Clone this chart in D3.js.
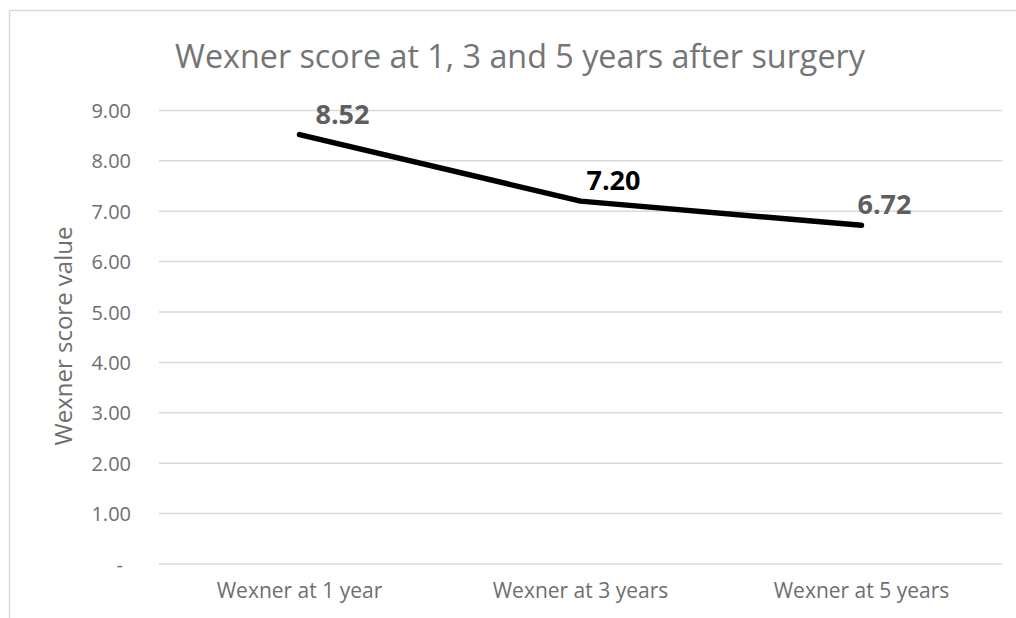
<!DOCTYPE html>
<html>
<head>
<meta charset="utf-8">
<script src="https://cdn.jsdelivr.net/npm/d3@7"></script>
<style>
  body { margin: 0; background: #fff; }
  svg text { font-family: "Open Sans", sans-serif; }
</style>
</head>
<body>
<svg id="chart" width="1016" height="618"></svg>
<script>
// data
const categories = ["Wexner at 1 year", "Wexner at 3 years", "Wexner at 5 years"];
const scores = [8.52, 7.20, 6.72];
const yTicks = [0, 1, 2, 3, 4, 5, 6, 7, 8, 9];
const titleText = "Wexner score at 1, 3 and 5 years after surgery";
const yLabelText = "Wexner score value";

// label nudges relative to each point, and label colours
const labelDx = [43, 33, 23];
const labelColors = ["#5f5f5f", "#000000", "#5f5f5f"];

const svg = d3.select("#chart");

// outer chart border (only top/left visible in the frame)
svg.append("rect")
  .attr("x", 9.5).attr("y", 10.5)
  .attr("width", 1100).attr("height", 700)
  .attr("fill", "none")
  .attr("stroke", "#d9d9d9")
  .attr("stroke-width", 1.5);

const x = d3.scaleBand().domain(categories).range([159, 1002]);
const y = d3.scaleLinear().domain([0, 9]).range([564, 110.4]);

// gridlines
svg.append("g")
  .selectAll("line")
  .data(yTicks)
  .join("line")
  .attr("x1", 159).attr("x2", 1002)
  .attr("y1", d => y(d)).attr("y2", d => y(d))
  .attr("stroke", "#d9d9d9")
  .attr("stroke-width", 1.5);

// y axis labels
const yAxis = d3.axisLeft(y)
  .tickValues(yTicks)
  .tickSize(0)
  .tickPadding(0)
  .tickFormat(d => d === 0 ? "-" : d3.format(".2f")(d));

svg.append("g")
  .attr("transform", "translate(131,0)")
  .call(yAxis)
  .call(g => g.select(".domain").remove())
  .call(g => g.selectAll("text")
    .attr("fill", "#6e6e6e")
    .attr("font-size", 20)
    .attr("dy", "0.35em")
    .attr("dx", d => d === 0 ? -8 : 0)
    .style("font-family", "'Open Sans', sans-serif"));

// x axis labels
const xAxis = d3.axisBottom(x).tickSize(0).tickPadding(0);
svg.append("g")
  .attr("transform", "translate(0,583)")
  .call(xAxis)
  .call(g => g.select(".domain").remove())
  .call(g => g.selectAll("text")
    .attr("fill", "#6e6e6e")
    .attr("font-size", 21)
    .attr("dy", "0.71em")
    .style("font-family", "'Open Sans', sans-serif"));

// the line
const line = d3.line()
  .x((d, i) => x(categories[i]) + x.bandwidth() / 2)
  .y(d => y(d));

svg.append("path")
  .datum(scores)
  .attr("d", line)
  .attr("fill", "none")
  .attr("stroke", "#000")
  .attr("stroke-width", 5.5)
  .attr("stroke-linecap", "round")
  .attr("stroke-linejoin", "round");

// data labels
svg.append("g")
  .selectAll("text")
  .data(scores)
  .join("text")
  .attr("x", (d, i) => x(categories[i]) + x.bandwidth() / 2 + labelDx[i])
  .attr("y", d => y(d) - 11)
  .attr("text-anchor", "middle")
  .attr("font-size", 27)
  .attr("font-weight", "bold")
  .attr("fill", (d, i) => labelColors[i])
  .text(d => d3.format(".2f")(d));

// title
const title = svg.append("text")
  .attr("x", 520)
  .attr("y", 68)
  .attr("text-anchor", "middle")
  .attr("fill", "#757575")
  .attr("font-size", 32)
  .text(titleText);
// squeeze font size so the title spans the same width as the reference
const tw = title.node().getComputedTextLength();
title.attr("font-size", 32 * 690 / tw);

// y axis title
svg.append("text")
  .attr("transform", "translate(72,336) rotate(-90)")
  .attr("text-anchor", "middle")
  .attr("fill", "#6e6e6e")
  .attr("font-size", 24)
  .text(yLabelText);
</script>
</body>
</html>
